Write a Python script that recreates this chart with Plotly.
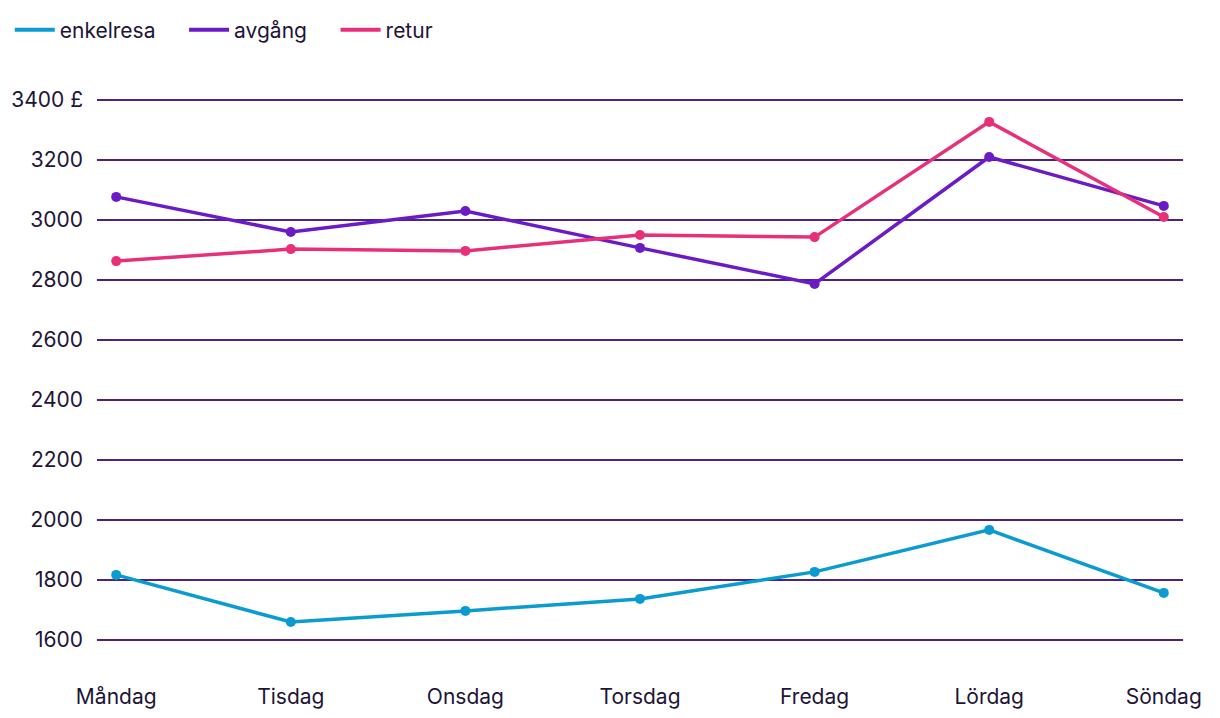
import plotly.graph_objects as go

days = ["Måndag", "Tisdag", "Onsdag", "Torsdag", "Fredag", "Lördag", "Söndag"]
enkelresa = [1817, 1660, 1697, 1737, 1827, 1967, 1757]
avgang = [3077, 2960, 3030, 2907, 2787, 3210, 3047]
retur = [2863, 2903, 2897, 2950, 2943, 3327, 3010]
tick_vals = [1600, 1800, 2000, 2200, 2400, 2600, 2800, 3000, 3200, 3400]
tick_text = ["1600", "1800", "2000", "2200", "2400", "2600", "2800", "3000", "3200", "3400 £"]

series = [("enkelresa", enkelresa, "#0A9BD0"),
          ("avgång", avgang, "#6A1BC6"),
          ("retur", retur, "#E8307A")]

fig = go.Figure()
for name, vals, col in series:
    fig.add_trace(go.Scatter(x=days, y=vals, name=name, mode="lines+markers",
                             line=dict(color=col, width=3.5),
                             marker=dict(color=col, size=10), showlegend=False))
pad = "\u00a0" * 4
for name, vals, col in series:
    fig.add_trace(go.Scatter(x=[None], y=[None], name=name + pad, mode="lines",
                             line=dict(color=col, width=4), showlegend=True))

fig.update_layout(
    width=1220, height=718,
    paper_bgcolor="white", plot_bgcolor="white",
    margin=dict(l=97, r=37, t=97, b=75, autoexpand=False),
    font=dict(family="Inter, Lato, sans-serif", size=21, color="#1E1438"),
    showlegend=True,
    legend=dict(orientation="h", x=0.008, xanchor="left", y=0.958, yanchor="middle",
                yref="container", xref="container",
                font=dict(size=21), itemwidth=40, tracegroupgap=0,
                bgcolor="rgba(0,0,0,0)"),
    xaxis=dict(type="category", range=[-0.11, 6.11], showgrid=False, automargin=False,
               zeroline=False, showline=False, ticks="", ticklabelstandoff=39,
               tickfont=dict(size=21)),
    yaxis=dict(range=[1590, 3410], tickvals=tick_vals, ticktext=tick_text, automargin=False,
               showgrid=True, gridcolor="#4B2283", gridwidth=1.5,
               zeroline=False, showline=False, ticks="", ticklabelstandoff=13,
               tickfont=dict(size=21)),
)
fig.write_html("out.html")
